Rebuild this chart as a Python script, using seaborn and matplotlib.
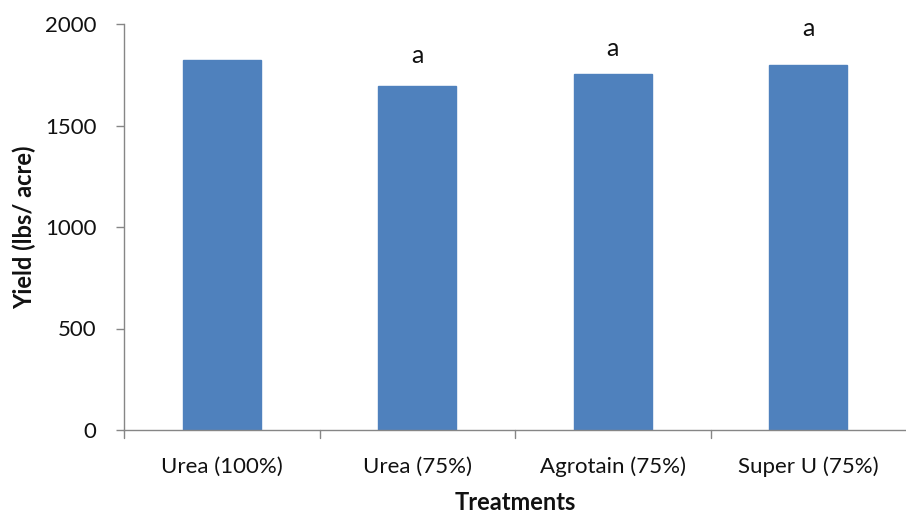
import matplotlib
matplotlib.use("Agg")
import matplotlib.pyplot as plt
import seaborn as sns
import pandas as pd

treatments = ["Urea (100%)", "Urea (75%)", "Agrotain (75%)", "Super U (75%)"]
yields = [1821, 1695, 1752, 1797]
letters = ["", "a", "a", "a"]
letter_heights = [0, 1788, 1823, 1921]
yticks = [0, 500, 1000, 1500, 2000]

sns.set_theme(style="white")
plt.rcParams["font.family"] = ["Lato", "DejaVu Sans"]

df = pd.DataFrame({"Treatment": treatments, "Yield": yields})

fig = plt.figure(figsize=(9.06, 5.15), dpi=100)
ax = fig.add_axes([124/906, 1-430/515, (906-124)/906, (430-24)/515])
sns.barplot(data=df, x="Treatment", y="Yield", color="#4F81BD", saturation=1,
            width=0.4, ax=ax, edgecolor="#4F81BD")

ax.set_ylim(0, 2000)
ax.set_xlim(-0.5, 3.5)
ax.set_yticks(yticks)
ax.set_yticklabels([str(t) for t in yticks], fontsize=16)
ax.tick_params(axis="x", labelsize=16, length=0, pad=19, labelcolor="#111111")
ax.tick_params(axis="y", length=6, width=1, color="#868686", direction="out", pad=14,
               left=True, labelcolor="#111111")
for x in [-0.5, 0.5, 1.5, 2.5]:
    ax.plot([x, x], [0, -0.02], transform=ax.get_xaxis_transform(), color="#868686",
            lw=1, clip_on=False)

for s in ["top", "right"]:
    ax.spines[s].set_visible(False)
for s in ["left", "bottom"]:
    ax.spines[s].set_color("#868686")
    ax.spines[s].set_linewidth(1)

for i, (lab, h) in enumerate(zip(letters, letter_heights)):
    if lab:
        ax.text(i, h, lab, ha="center", va="bottom", fontsize=18, color="#111111")

ax.set_xlabel("Treatments", fontsize=17, fontweight="bold", labelpad=10, color="#111111")
ax.set_ylabel("Yield (lbs/ acre)", fontsize=17, fontweight="bold", labelpad=6, color="#111111")

fig.savefig("out.png", dpi=100)
